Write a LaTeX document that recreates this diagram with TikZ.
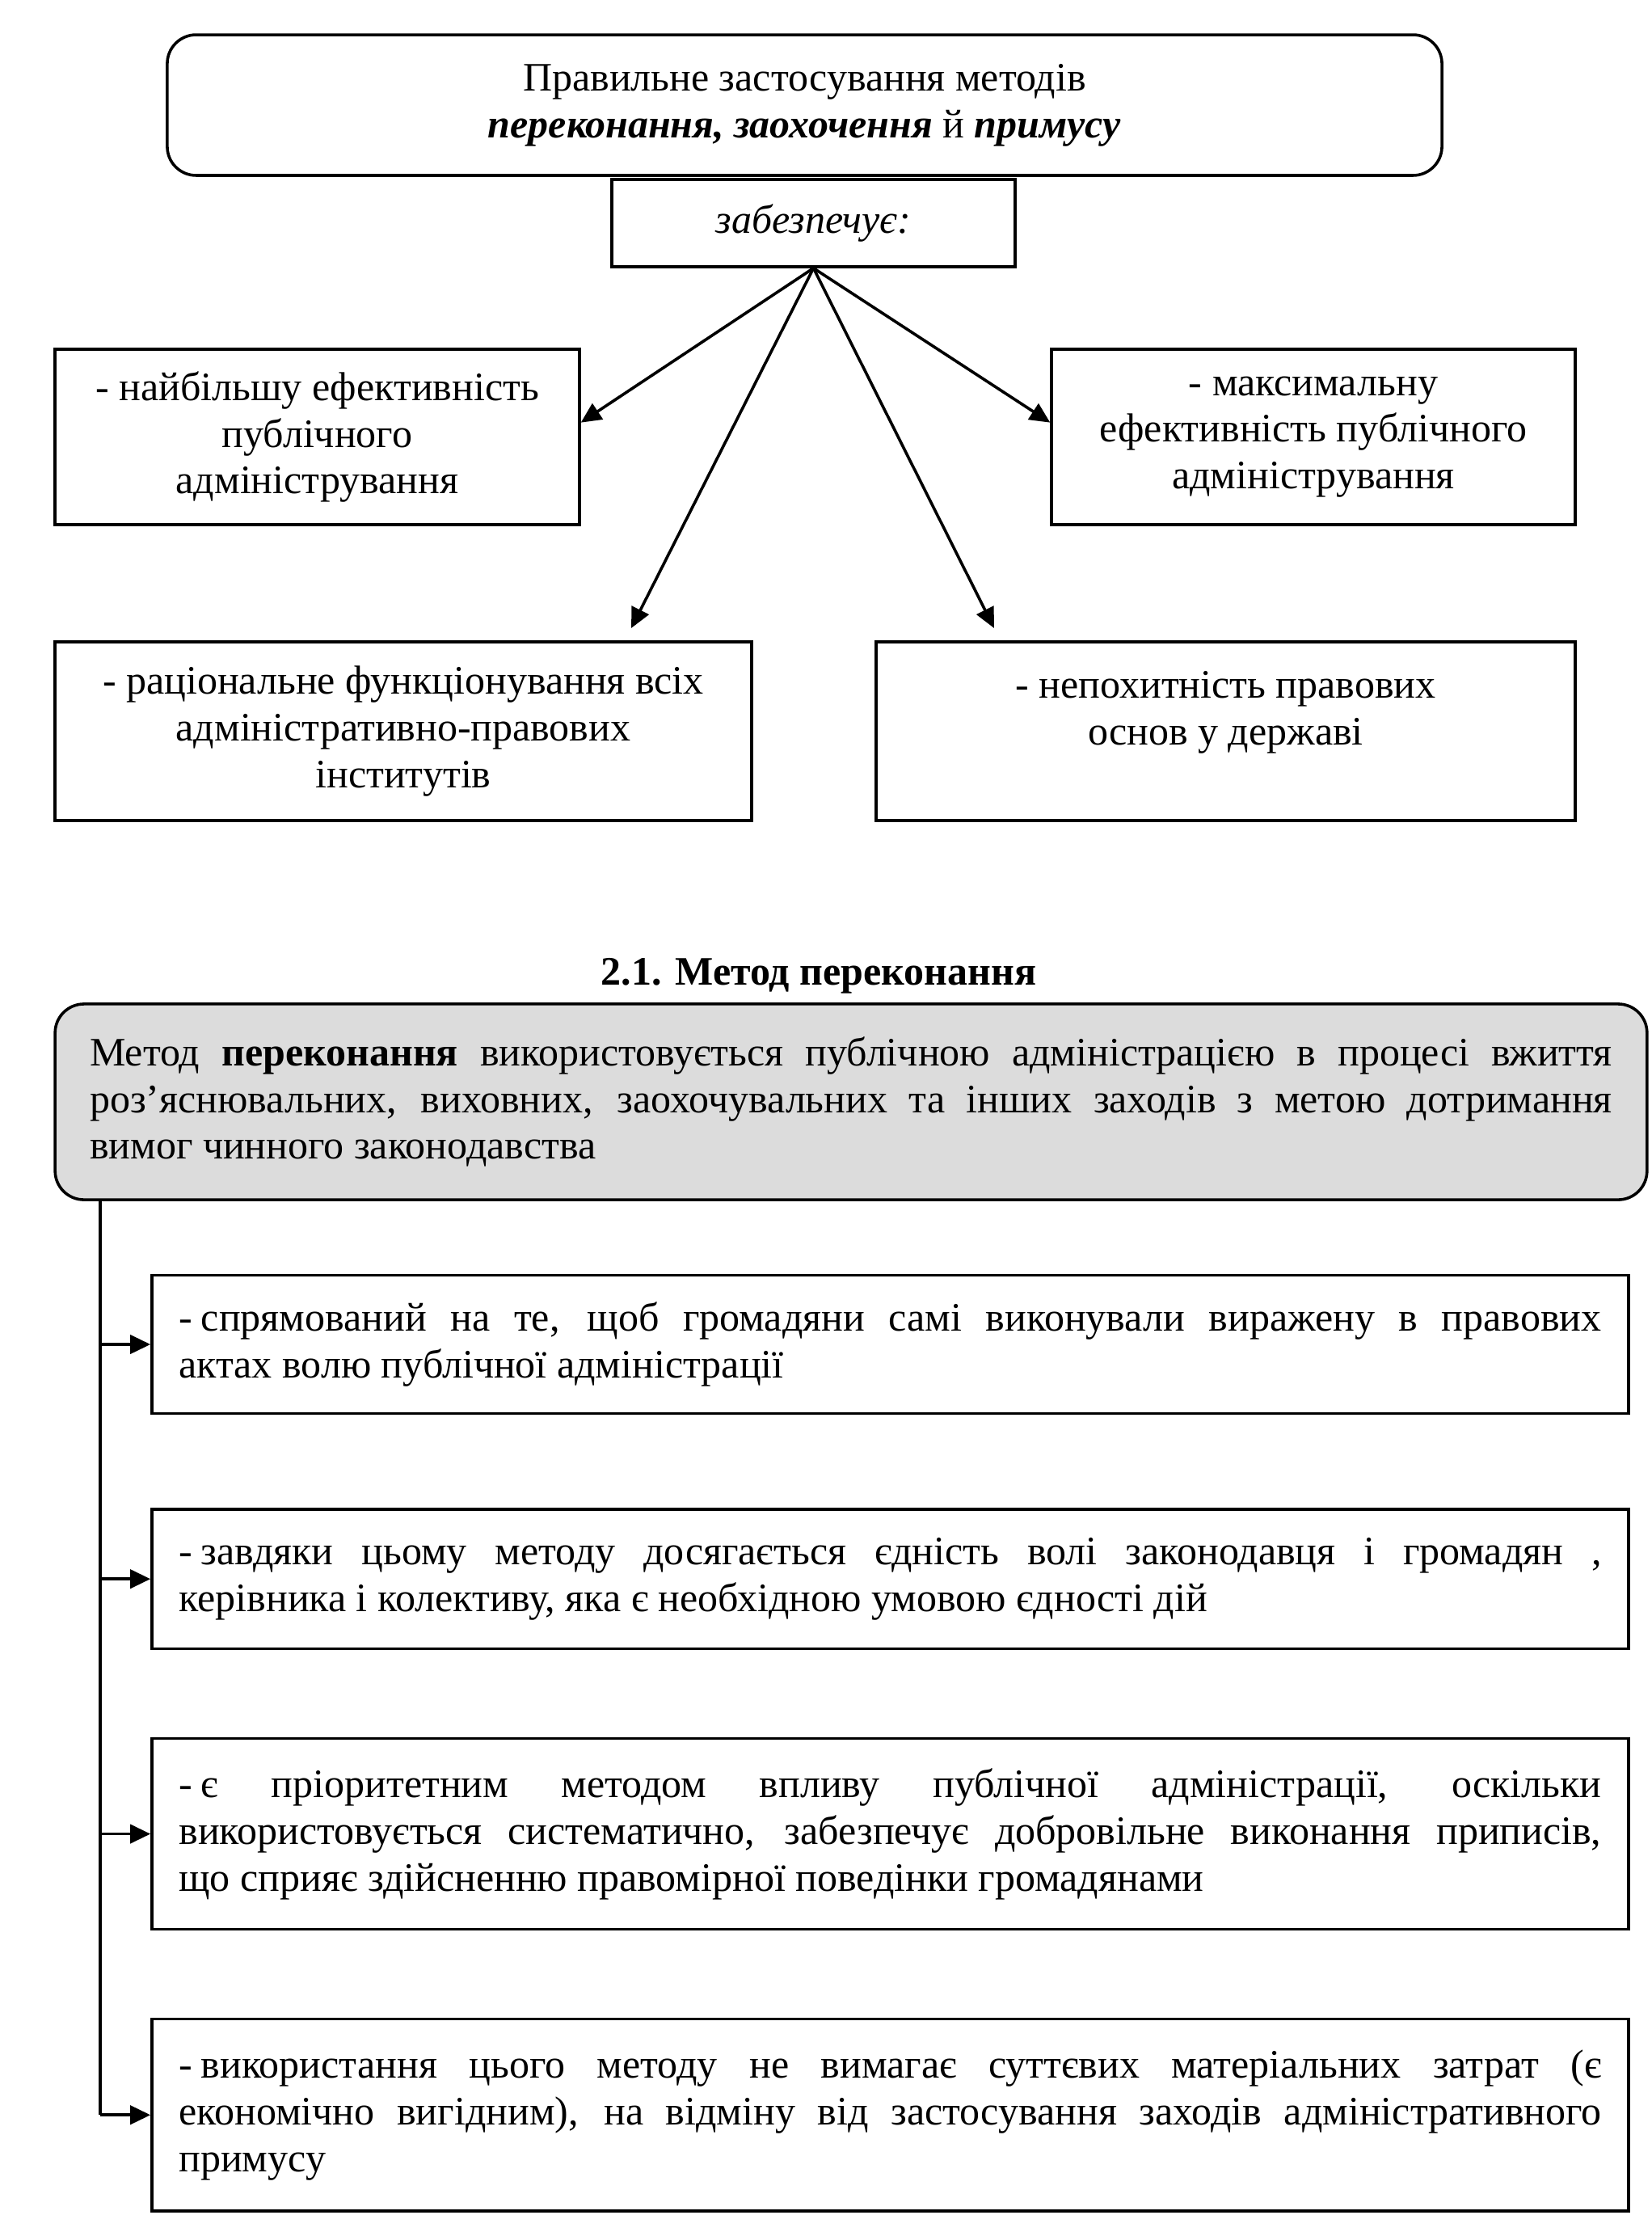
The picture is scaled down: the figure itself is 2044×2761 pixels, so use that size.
\documentclass[tikz,border=0pt]{standalone}
\usepackage{fontspec}
\setmainfont{Liberation Serif}
\usetikzlibrary{arrows.meta,positioning}
\definecolor{boxgray}{HTML}{DCDCDC}
\hyphenpenalty=10000
\exhyphenpenalty=10000

\begin{document}
\begin{tikzpicture}[x=0.28pt, y=-0.28pt, node distance={30.1pt},
    font=\fontsize{14pt}{16.2pt}\selectfont,
    box/.style = {draw, line width=1pt, align=center, inner sep=0pt},
    main/.style = {draw, line width=1pt, rounded corners=10pt, align=center},
    feature/.style = {draw, line width=1pt, text width=492.8pt, inner xsep=9.4pt, align=justify, minimum height=#1},
    arr/.style = {-{Triangle[length=7pt,width=6.5pt]}, line width=1pt}]
    \useasboundingbox (0,0) rectangle (2044,2761);

    % upper part
    \node[main, minimum width=441.6pt, minimum height=48.7pt] (top) at (995.5,130) {Правильне застосування методів\\ \textbf{\textit{переконання, заохочення}} й \textbf{\textit{примусу}}};
    \node[box, minimum width=139.7pt, minimum height=30.2pt] (zab) at (1006.5,276) {\textit{забезпечує:}};

    \node[box, minimum width=181.7pt, minimum height=60.8pt] (eff) at (392.5,540.5) {- найбільшу ефективність\\ публічного\\ адміністрування};
    \node[box, minimum width=181.4pt, minimum height=60.8pt] (max) at (1625,540.5) {- максимальну\\ ефективність публічного\\ адміністрування};
    \node[box, minimum width=241.4pt, minimum height=61.9pt] (inst) at (499,904.5) {- раціональне функціонування всіх\\ адміністративно-правових\\ інститутів};
    \node[box, minimum width=242.2pt, minimum height=61.9pt] (osn) at (1516.5,904.5) {- непохитність правових\\ основ у державі\\ \mbox{}};

    \coordinate (tipC) at (781,777);
    \coordinate (tipD) at (1230,777);

    \draw[arr] (zab.south) -- ([yshift=5pt]eff.east);
    \draw[arr] (zab.south) -- ([yshift=5pt]max.west);
    \draw[arr] (zab.south) -- (tipC);
    \draw[arr] (zab.south) -- (tipD);

    % lower part
    \node[font=\fontsize{14pt}{16.2pt}\selectfont\bfseries] (title) at (1013,1207) {2.1. Метод переконання};

    \node[draw, line width=1pt, rounded corners=10pt, fill=boxgray, text width=527.5pt, inner xsep=12pt, align=justify, minimum height=67.8pt] (def) at (1053,1363) {Метод \textbf{переконання} використовується публічною адміністрацією в процесі вжиття\linebreak роз'яснювальних, виховних, заохочувальних та інших заходів з метою дотримання\linebreak вимог чинного законодавства};

    \node[feature=47.9pt] (f1) at (1101.5,1663) {-\hspace{3pt}спрямований на те, щоб громадяни самі виконували виражену в правових\linebreak актах волю публічної адміністрації};
    \node[feature=48.4pt, below=32.1pt of f1] (f2) {-\hspace{3pt}завдяки цьому методу досягається єдність волі законодавця і громадян ,\linebreak керівника і колективу, яка є необхідною умовою єдності дій};
    \node[feature=66pt, below=of f2] (f3) {-\hspace{3pt}є пріоритетним методом впливу публічної адміністрації, оскільки\linebreak використовується систематично, забезпечує добровільне виконання приписів,\linebreak що сприяє здійсненню правомірної поведінки громадянами};
    \node[feature=66.5pt, below=of f3] (f4) {-\hspace{3pt}використання цього методу не вимагає суттєвих матеріальних затрат (є\linebreak економічно вигідним), на відміну від застосування заходів адміністративного\linebreak примусу};

    \coordinate (trunk) at (124,1484);
    \draw[line width=1pt] (trunk) -- (trunk |- f4.west);
    \draw[arr] (trunk |- f1.west) -- (f1.west);
    \draw[arr] (trunk |- f2.west) -- (f2.west);
    \draw[arr] (trunk |- f3.west) -- (f3.west);
    \draw[arr] (trunk |- f4.west) -- (f4.west);
\end{tikzpicture}
\end{document}
